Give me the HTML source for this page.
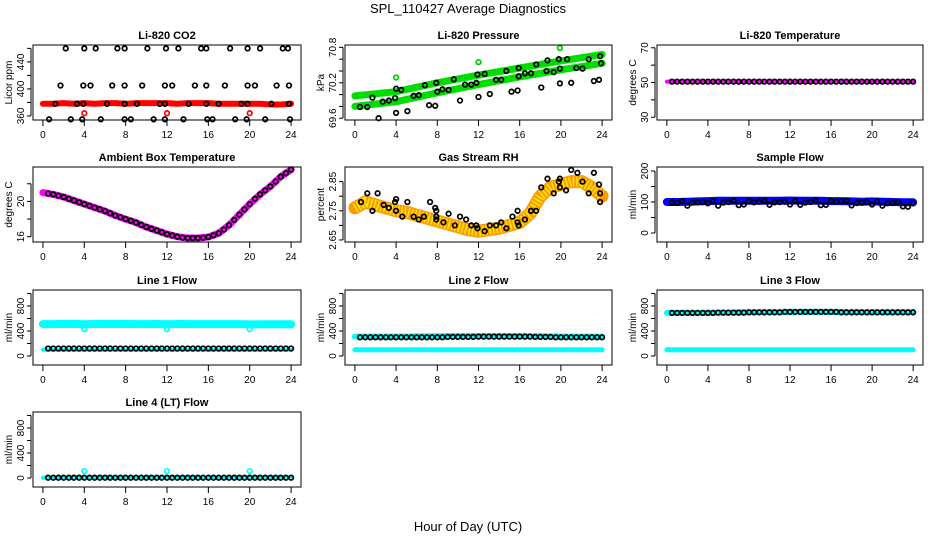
<!DOCTYPE html>
<html><head><meta charset="utf-8"><style>
html,body{margin:0;padding:0;background:#fff;}
svg{display:block;font-family:"Liberation Sans",Arial,sans-serif;}
</style></head><body>
<svg id="chart" width="936" height="540" viewBox="0 0 936 540">
<text x="468" y="13" text-anchor="middle" font-size="13">SPL_110427  Average Diagnostics</text>
<text x="468" y="531" text-anchor="middle" font-size="13">Hour of Day (UTC)</text>
</svg>
<script>
const xTicks=[0,4,8,12,16,20,24];
const halfHours=[0.5,1,1.5,2,2.5,3,3.5,4,4.5,5,5.5,6,6.5,7,7.5,8,8.5,9,9.5,10,10.5,11,11.5,12,12.5,13,13.5,14,14.5,15,15.5,16,16.5,17,17.5,18,18.5,19,19.5,20,20.5,21,21.5,22,22.5,23,23.5,24];
const hours=[0,1,2,3,4,5,6,7,8,9,10,11,12,13,14,15,16,17,18,19,20,21,22,23,24];
// CO2
const co2BandVals=[378,378,379,378,379,378,379,379,378,379,379,379,379,378,379,379,379,378,378,378,378,378,377,377,378];
const co2Times=[2.2,4.0,5.1,7.2,7.9,10.1,11.9,13.1,15.3,15.8,18.1,19.8,21.0,23.2,23.7,1.7,3.9,4.6,6.7,7.9,9.6,11.8,12.5,14.7,15.8,17.6,19.8,20.5,22.6,23.8,1.2,3.3,3.9,6.2,7.9,9.1,11.3,11.8,14.1,15.8,17.0,19.2,19.8,22.1,23.8,0.6,2.7,3.8,5.6,7.9,8.5,10.7,11.8,13.6,15.9,16.4,18.6,19.7,21.5,23.9];
const co2Vals=[460,460,460,460,460,460,460,460,460,460,460,460,460,460,460,405,405,405,405,405,405,405,405,405,405,405,405,405,405,405,378,378,378,378,378,378,378,378,378,378,378,378,378,378,378,355,355,355,355,355,355,355,355,355,355,355,355,355,355,355];
const co2OutTimes=[4,12,20];
const co2OutVals=[364,364,364];
// Pressure
const presBandTimes=[0,4,8,12,16,20,24];
const presUpper=[69.98,70.05,70.2,70.33,70.45,70.57,70.68];
const presLower=[69.8,69.88,70.03,70.17,70.3,70.42,70.53];
const presTimes=[0.5,1.2,1.7,2.7,3.3,3.9,4.0,4.5,5.7,6.2,6.8,7.9,8.0,8.5,9.1,9.6,10.7,11.3,11.8,11.9,12.6,13.7,14.2,14.7,15.9,15.9,16.5,17.1,17.6,18.6,18.7,19.3,19.8,19.9,20.6,21.5,22.1,22.7,23.8,23.9,2.3,4.0,5.1,7.2,7.8,10.2,12.0,13.1,15.2,15.8,18.1,19.9,21.0,23.2,23.7];
const presVals=[69.79,69.79,69.95,69.88,69.9,69.94,70.1,70.08,69.98,69.99,70.16,70.2,70.05,70.09,70.08,70.26,70.17,70.17,70.2,70.34,70.35,70.25,70.25,70.4,70.31,70.45,70.36,70.36,70.51,70.4,70.58,70.38,70.6,70.44,70.6,70.45,70.44,70.6,70.65,70.53,69.6,69.69,69.72,69.82,69.81,69.9,69.96,70.01,70.05,70.07,70.12,70.19,70.2,70.23,70.25];
const presOutTimes=[4.0,12.0,19.9];
const presOutVals=[70.29,70.55,70.79];
// Temperature
const tempBand=[50.5,50.5,50.5,50.5,50.5,50.5,50.5,50.5,50.5,50.5,50.5,50.5,50.5,50.5,50.5,50.5,50.5,50.5,50.5,50.5,50.5,50.5,50.5,50.5,50.5];
const tempVals=[50.5,50.5,50.5,50.5,50.5,50.5,50.5,50.5,50.5,50.5,50.5,50.5,50.5,50.5,50.5,50.5,50.5,50.5,50.5,50.5,50.5,50.5,50.5,50.5,50.5,50.5,50.5,50.5,50.5,50.5,50.5,50.5,50.5,50.5,50.5,50.5,50.5,50.5,50.5,50.5,50.5,50.5,50.5,50.5,50.5,50.5,50.5,50.5];
// Ambient
const ambBand=[21.0,20.8,20.5,20.1,19.7,19.3,18.9,18.4,18.0,17.6,17.1,16.7,16.3,16.0,15.85,15.85,15.97,16.4,17.3,18.5,19.7,20.8,21.7,22.8,23.6];
const ambVals=[20.9,20.8,20.65,20.5,20.3,20.1,19.9,19.7,19.5,19.3,19.1,18.9,18.65,18.4,18.2,18.0,17.8,17.6,17.35,17.1,16.9,16.7,16.5,16.3,16.15,16.0,15.9,15.85,15.85,15.85,15.9,15.97,16.15,16.4,16.8,17.3,17.9,18.5,19.1,19.7,20.3,20.8,21.25,21.7,22.25,22.8,23.2,23.6];
// Gas RH
const rhBand=[2.76,2.78,2.77,2.76,2.75,2.745,2.735,2.725,2.715,2.705,2.695,2.685,2.68,2.685,2.69,2.70,2.71,2.74,2.80,2.83,2.84,2.85,2.85,2.83,2.80];
const rhTimes=[0.6,1.2,2.2,1.7,2.8,3.3,4.0,3.9,4.0,4.6,5.1,5.7,6.2,6.7,7.3,7.8,7.9,7.9,7.9,8.6,9.1,9.7,10.2,10.8,11.3,11.8,11.9,12.6,13.1,13.7,14.2,14.7,15.3,15.8,15.8,15.9,16.5,17.1,17.6,18.1,18.7,19.3,19.8,19.9,19.9,20.5,21.0,21.6,22.1,22.7,23.2,23.7,23.8,23.8];
const rhVals=[2.78,2.81,2.81,2.75,2.77,2.76,2.75,2.78,2.79,2.73,2.78,2.73,2.72,2.73,2.78,2.76,2.75,2.73,2.72,2.71,2.74,2.70,2.73,2.72,2.70,2.70,2.69,2.68,2.70,2.70,2.71,2.69,2.73,2.75,2.71,2.70,2.72,2.75,2.75,2.83,2.86,2.81,2.85,2.86,2.83,2.82,2.89,2.88,2.85,2.81,2.88,2.84,2.81,2.78];
// Sample flow
const sampBand=[100,100,101,102,103,104,104,104,104,104,104,104,105,104,104,104,103,103,102,101,102,101,100,99,99];
const sampVals=[98,97,103,88,98,99,100,96,103,88,98,100,104,90,92,103,99,101,104,91,99,100,101,92,104,91,98,100,105,90,91,104,101,102,104,89,97,98,100,92,102,88,96,97,100,86,85,96];
// Flows
const l1Band=[510,510,512,512,508,512,512,512,512,510,510,512,508,512,510,510,510,510,510,510,505,508,508,508,508];
const l1LowBand=[100,100,100,100,100,100,100,100,100,100,100,100,100,100,100,100,100,100,100,100,100,100,100,100,100];
const l1Vals=[120,120,120,120,120,120,120,120,120,120,120,120,120,120,120,120,120,120,120,120,120,120,120,120,120,120,120,120,120,120,120,120,120,120,120,120,120,120,120,120,120,120,120,120,120,120,120,120];
const l1OutTimes=[4,12,20];
const l1OutVals=[430,430,430];
const l2Band=[310,310,310,310,310,310,315,315,318,318,320,320,320,320,320,320,320,318,315,312,310,310,310,310,310];
const l2LowBand=[100,100,100,100,100,100,100,100,100,100,100,100,100,100,100,100,100,100,100,100,100,100,100,100,100];
const l2Vals=[300,300,300,300,300,300,300,300,300,300,300,300,300,300,300,300,300,305,305,305,305,305,305,310,310,310,310,310,310,310,310,310,310,310,305,305,305,305,300,300,300,300,300,300,300,300,300,300];
const l3Band=[690,690,690,690,690,695,695,700,700,700,700,700,705,705,705,705,705,700,700,700,700,700,700,700,700];
const l3LowBand=[100,100,100,100,100,100,100,100,100,100,100,100,100,100,100,100,100,100,100,100,100,100,100,100,100];
const l3Vals=[690,690,690,690,690,690,690,690,690,695,695,695,695,695,695,700,700,700,700,700,700,700,705,705,705,705,705,705,705,705,705,705,705,700,700,700,700,700,700,700,700,700,700,700,700,700,700,700];
const l4Band=[5,5,5,5,5,5,5,5,5,5,5,5,5,5,5,5,5,5,5,5,5,5,5,5,5];
const l4Vals=[5,5,5,5,5,5,5,5,5,5,5,5,5,5,5,5,5,5,5,5,5,5,5,5,5,5,5,5,5,5,5,5,5,5,5,5,5,5,5,5,5,5,5,5,5,5,5,5];
const l4OutTimes=[4,12,20];
const l4OutVals=[110,110,110];

const NS='http://www.w3.org/2000/svg';
const svg=document.getElementById('chart');
const colL=[33,345,657], colR=[301,612,923], rowT=[45,167,290,412], H=75;
function mk(tag,attrs,parent){const e=document.createElementNS(NS,tag);for(const k in attrs)e.setAttribute(k,attrs[k]);(parent||svg).appendChild(e);return e;}

function panel(cfg){
  const L=colL[cfg.c],R=colR[cfg.c],T=rowT[cfg.r],B=T+H;
  const g=mk('g',{});
  
  
  const xs=t=>L+(t+0.96)/25.92*(R-L);
  const ys=v=>B-(v-cfg.yd[0])/(cfg.yd[1]-cfg.yd[0])*(B-T);
  const title=mk('text',{x:(L+R)/2,y:T-6,'text-anchor':'middle','font-size':11,'font-weight':'bold'},g);
  title.textContent=cfg.title;
  
  
  (cfg.bands||[]).forEach(b=>{
    const d=b.vals.map((v,i)=>(i?'L':'M')+xs(b.t[i]).toFixed(1)+','+ys(v).toFixed(1)).join('');
    const p=mk('path',{d:d,fill:'none',stroke:b.color,'stroke-width':b.w,'stroke-linecap':'round','stroke-linejoin':'round'},g);
    
    
    if(b.dash){const p2=mk('path',{d:d,fill:'none',stroke:b.dash,'stroke-width':b.w-3,'stroke-dasharray':'1.5 2','stroke-linecap':'butt'},g);
      
      }
  });
  (cfg.pts||[]).forEach(s=>{
    s.t.forEach((t,i)=>{
      const c=mk('circle',{cx:xs(t).toFixed(1),cy:ys(s.vals[i]).toFixed(1),r:2.3,fill:'none',stroke:s.color,'stroke-width':1.7},g);
      
      
    });
  });
  const box=mk('rect',{x:L,y:T,width:R-L,height:H,fill:'none',stroke:'#000','stroke-width':1},g);
  
  
  const xa=mk('g',{},g);
  
  
  xTicks.forEach(t=>{
    mk('line',{x1:xs(t),x2:xs(t),y1:B,y2:B+6,stroke:'#000'},xa);
    const tx=mk('text',{x:xs(t),y:B+18,'text-anchor':'middle','font-size':10},xa);
    tx.textContent=t;
  });
  const ya=mk('g',{},g);
  
  
  mk('line',{x1:L-2,x2:L-2,y1:ys(cfg.yt[0]),y2:ys(cfg.yt[cfg.yt.length-1]),stroke:'#000'},ya);
  cfg.yt.forEach(v=>mk('line',{x1:L-6,x2:L-2,y1:ys(v),y2:ys(v),stroke:'#000'},ya));
  cfg.yl.forEach(v=>{
    const y=ys(v),x=L-9;
    const tx=mk('text',{x:x,y:y,'text-anchor':'middle','font-size':10,transform:`rotate(-90 ${x} ${y})`},ya);
    tx.textContent=v;
  });
  const yt=mk('text',{x:L-21,y:(T+B)/2,'text-anchor':'middle','font-size':10,transform:`rotate(-90 ${L-21} ${(T+B)/2})`},g);
  yt.textContent=cfg.ylab;
  
  
}
const flowTicks=[0,200,400,600,800,1000], flowLabels=[0,400,800], flowD=[-144,1056];
panel({name:'co2-panel',c:0,r:0,title:'Li-820 CO2',ylab:'Licor ppm',yd:[354,465],yt:[360,380,400,420,440,460],yl:[360,400,440],
  bands:[{t:hours,vals:co2BandVals,color:'#ff0000',w:6}],
  pts:[{t:co2OutTimes,vals:co2OutVals,color:'#ff0000'},{t:co2Times,vals:co2Vals,color:'#000'}]});
panel({name:'pressure-panel',c:1,r:0,title:'Li-820 Pressure',ylab:'kPa',yd:[69.57,70.84],yt:[69.6,69.8,70.0,70.2,70.4,70.6,70.8],yl:[69.6,70.2,70.8],
  bands:[{t:presBandTimes,vals:presUpper,color:'#00dd00',w:7},{t:presBandTimes,vals:presLower,color:'#00dd00',w:7}],
  pts:[{t:presOutTimes,vals:presOutVals,color:'#00cc00'},{t:presTimes,vals:presVals,color:'#000'}]});
panel({name:'temperature-panel',c:2,r:0,title:'Li-820 Temperature',ylab:'degrees C',yd:[28.4,71.6],yt:[30,40,50,60,70],yl:[30,50,70],
  bands:[{t:hours,vals:tempBand,color:'#ff00ff',w:4}],
  pts:[{t:halfHours,vals:tempVals,color:'#000'}]});
panel({name:'ambient-temperature-panel',c:0,r:1,title:'Ambient Box Temperature',ylab:'degrees C',yd:[15.4,23.9],yt:[16,18,20,22],yl:[16,20],
  bands:[{t:hours,vals:ambBand,color:'#ff00ff',w:7}],
  pts:[{t:halfHours,vals:ambVals,color:'#000'}]});
panel({name:'gas-rh-panel',c:1,r:1,title:'Gas Stream RH',ylab:'percent',yd:[2.643,2.9],yt:[2.65,2.7,2.75,2.8,2.85],yl:[2.65,2.75,2.85],
  bands:[{t:hours,vals:rhBand,color:'#ff9900',w:13,dash:'#ffee00'}],
  pts:[{t:rhTimes,vals:rhVals,color:'#000'}]});
panel({name:'sample-flow-panel',c:2,r:1,title:'Sample Flow',ylab:'ml/min',yd:[-29,213],yt:[0,50,100,150,200],yl:[0,100,200],
  bands:[{t:hours,vals:sampBand,color:'#0000ff',w:8}],
  pts:[{t:halfHours,vals:sampVals,color:'#000'}]});
panel({name:'line1-flow-panel',c:0,r:2,title:'Line 1 Flow',ylab:'ml/min',yd:flowD,yt:flowTicks,yl:flowLabels,
  bands:[{t:hours,vals:l1Band,color:'#00ffff',w:8},{t:hours,vals:l1LowBand,color:'#00ffff',w:4}],
  pts:[{t:l1OutTimes,vals:l1OutVals,color:'#00ffff'},{t:halfHours,vals:l1Vals,color:'#000'}]});
panel({name:'line2-flow-panel',c:1,r:2,title:'Line 2 Flow',ylab:'ml/min',yd:flowD,yt:flowTicks,yl:flowLabels,
  bands:[{t:hours,vals:l2Band,color:'#00ffff',w:6},{t:hours,vals:l2LowBand,color:'#00ffff',w:5}],
  pts:[{t:halfHours,vals:l2Vals,color:'#000'}]});
panel({name:'line3-flow-panel',c:2,r:2,title:'Line 3 Flow',ylab:'ml/min',yd:flowD,yt:flowTicks,yl:flowLabels,
  bands:[{t:hours,vals:l3Band,color:'#00ffff',w:6},{t:hours,vals:l3LowBand,color:'#00ffff',w:5}],
  pts:[{t:halfHours,vals:l3Vals,color:'#000'}]});
panel({name:'line4-flow-panel',c:0,r:3,title:'Line 4 (LT) Flow',ylab:'ml/min',yd:flowD,yt:flowTicks,yl:flowLabels,
  bands:[{t:hours,vals:l4Band,color:'#00ffff',w:4}],
  pts:[{t:l4OutTimes,vals:l4OutVals,color:'#00ffff'},{t:halfHours,vals:l4Vals,color:'#000'}]});
</script>
</body></html>
